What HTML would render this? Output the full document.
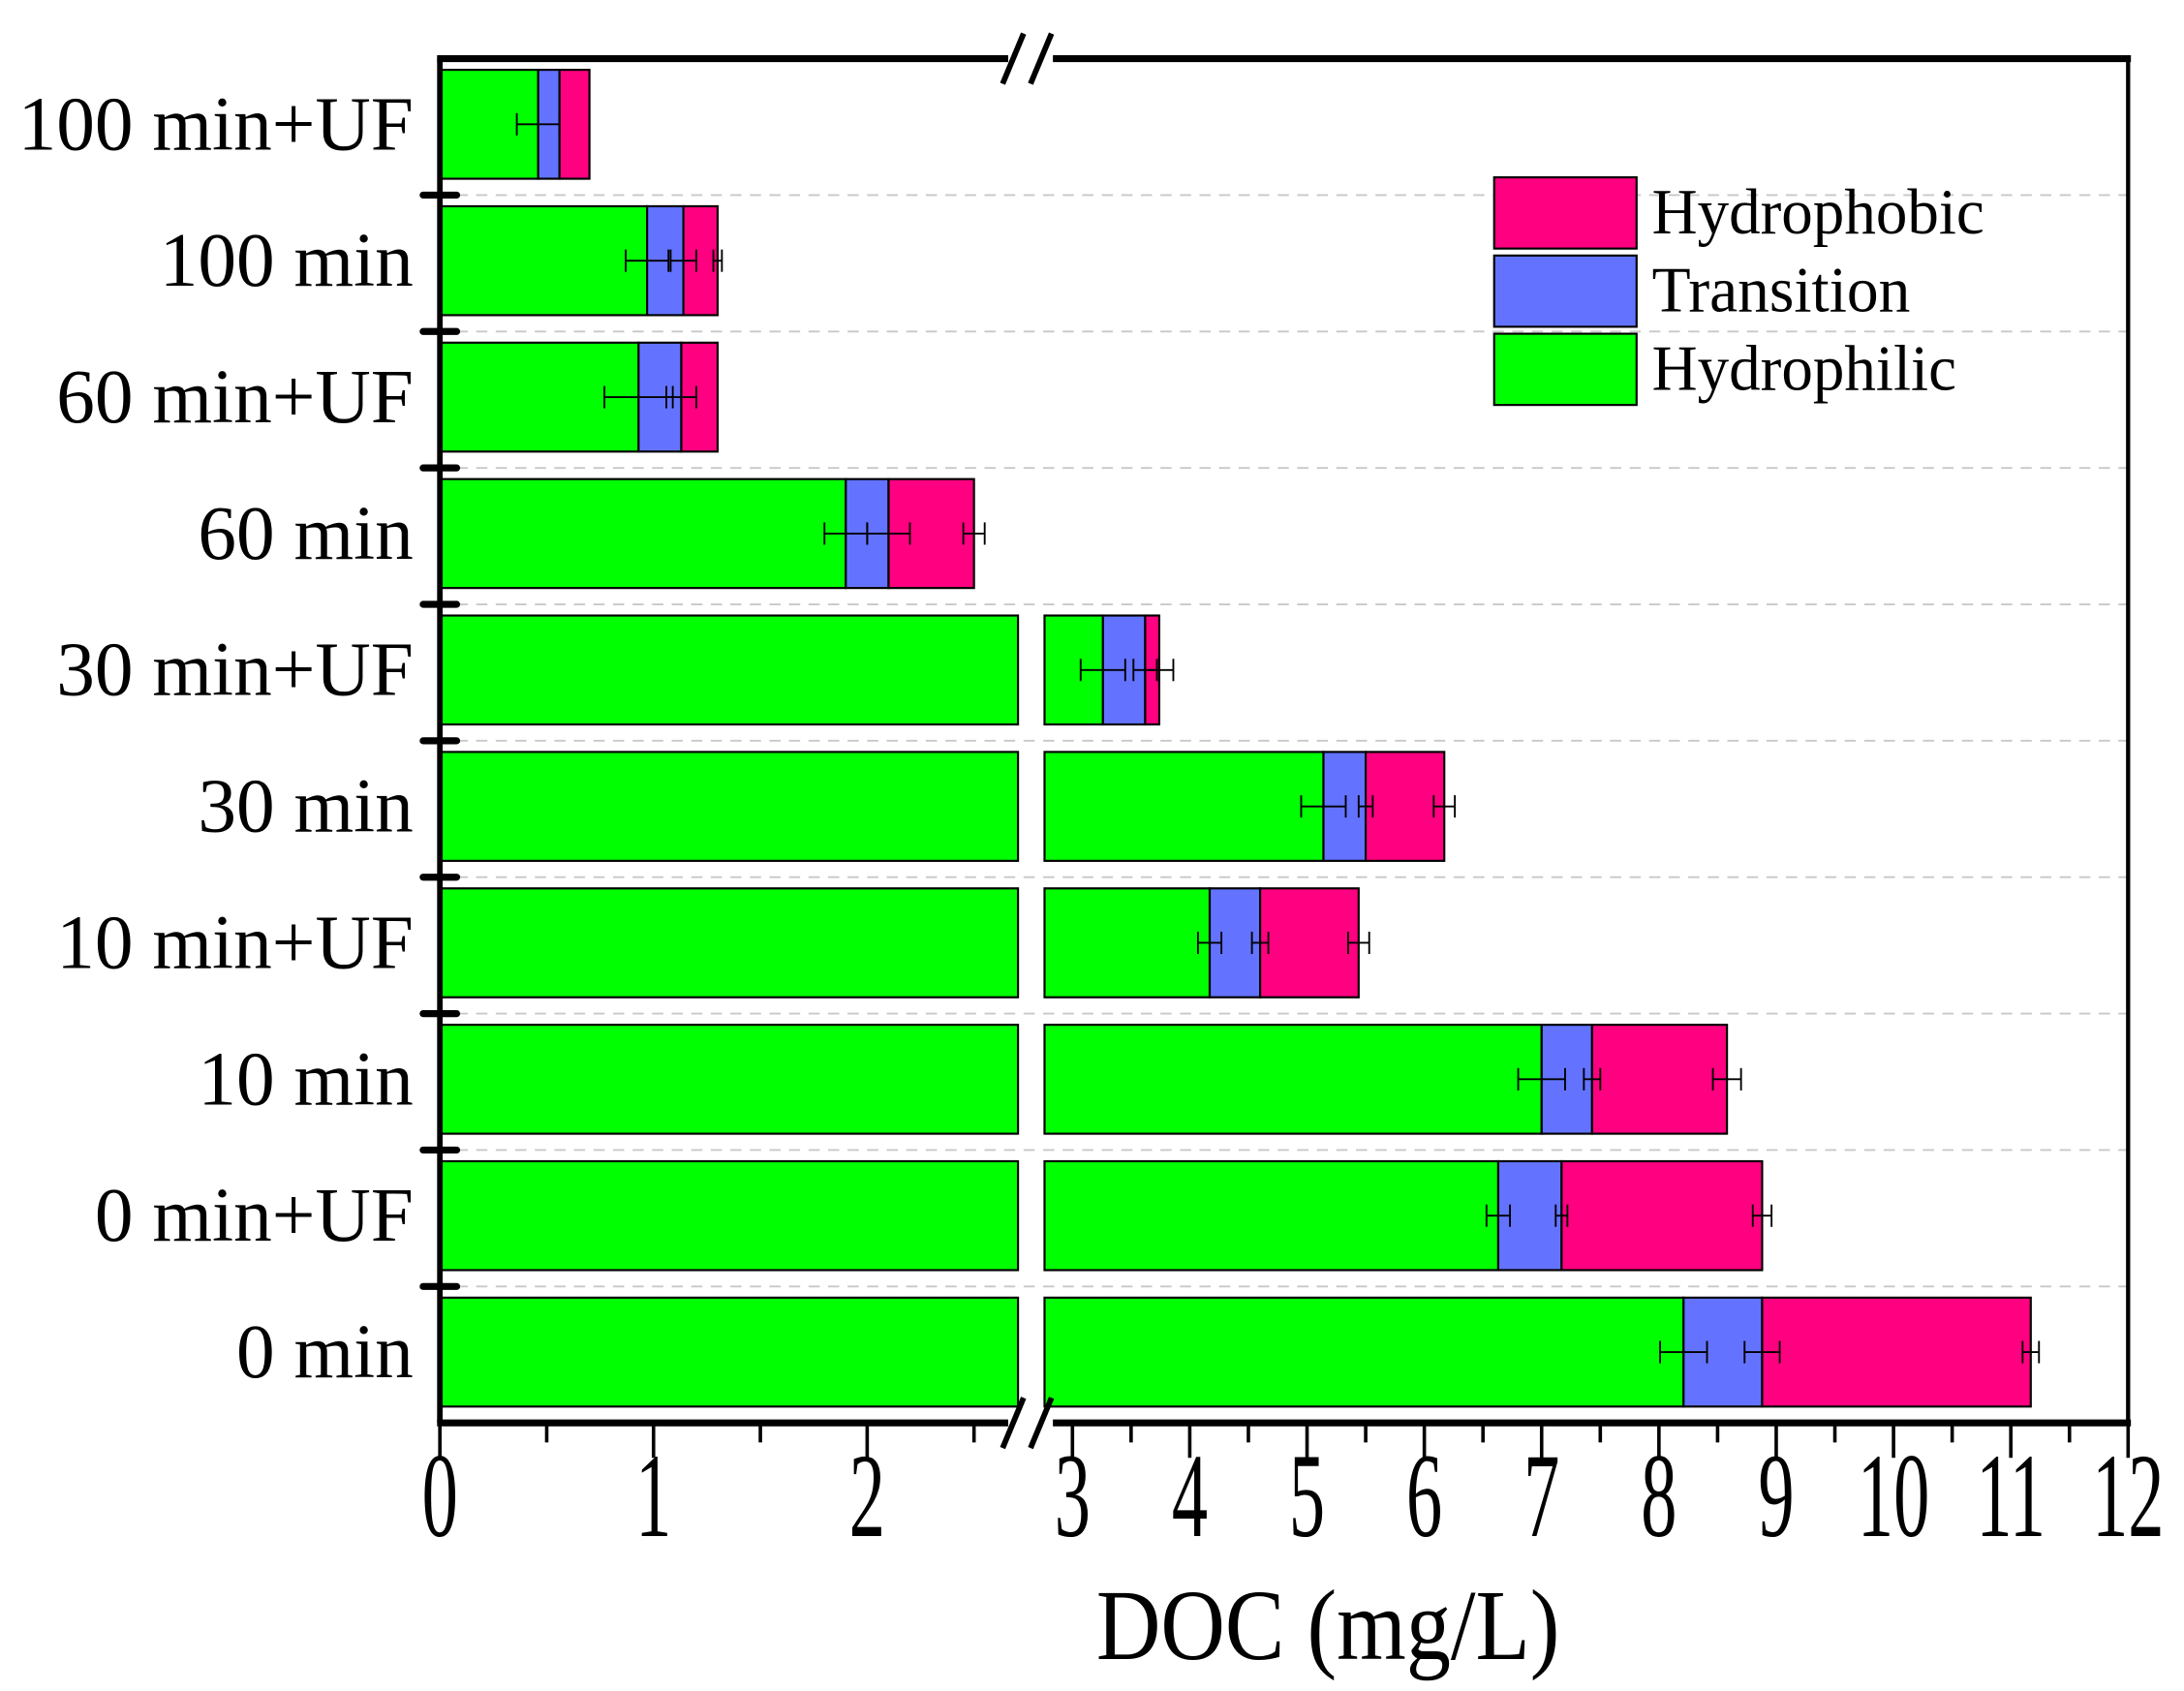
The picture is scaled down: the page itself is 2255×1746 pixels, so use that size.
<!DOCTYPE html>
<html><head><meta charset="utf-8"><style>
html,body{margin:0;padding:0;background:#fff;}
svg{display:block;}
text{font-family:"Liberation Serif",serif;fill:#000;}
</style></head><body>
<svg id="chart" width="2255" height="1746" viewBox="0 0 1564 1211" xmlns="http://www.w3.org/2000/svg">
<g id="grid"></g>
<g id="bars"></g>
<g id="errs"></g>
<g id="axes"></g>
<g id="legend"></g>
</svg>
<script>
const categories = ["100 min+UF","100 min","60 min+UF","60 min","30 min+UF","30 min","10 min+UF","10 min","0 min+UF","0 min"];
const hydrophilic = [0.46,0.97,0.93,1.90,3.26,5.14,4.17,7.00,6.63,8.21];
const transition = [0.10,0.17,0.20,0.20,0.36,0.36,0.43,0.43,0.54,0.67];
const hydrophobic = [0.14,0.16,0.17,0.40,0.12,0.67,0.84,1.15,1.71,2.29];
const errPhilic = [0.10,0.10,0.16,0.10,0.19,0.19,0.10,0.20,0.10,0.20];
const errTrans = [0.00,0.06,0.07,0.10,0.10,0.06,0.07,0.07,0.05,0.15];
const errPhobic = [0.00,0.02,0.00,0.05,0.12,0.09,0.09,0.12,0.08,0.07];
const tickLabels = [0,1,2,3,4,5,6,7,8,9,10,11,12];
const legendNames = ["Hydrophobic","Transition","Hydrophilic"];

const NS="http://www.w3.org/2000/svg";
const colors={philic:"#00ff00",trans:"#6373ff",phobic:"#ff0080"};
const X0=315, X1=1524, Y0=42, Y1=1019;
const BREAK=2.7, GAPL=729, GAPR=748;
function xs(v){ return v<=BREAK ? X0+153*v : 768+84*(v-3); }
const band=(Y1-Y0)/categories.length;
function yTop(i){ return Y0+i*band+8; }
const barH=78;
function mk(tag,attrs,parent){const e=document.createElementNS(NS,tag);for(const k in attrs)e.setAttribute(k,attrs[k]);parent.appendChild(e);return e;}
const gGrid=document.getElementById('grid'),gBars=document.getElementById('bars'),gErr=document.getElementById('errs'),gAx=document.getElementById('axes'),gLeg=document.getElementById('legend');

for(let k=1;k<categories.length;k++){
  const y=Y0+k*band;
  const l=mk('line',{x1:X0+12,x2:X1,y1:y,y2:y,stroke:'#c8c8c8','stroke-width':1.3,'stroke-dasharray':'8,6'},gGrid);
  
  
}
function seg(a,b,y,fill,name){
  const parts=[];
  if(a<BREAK){parts.push([xs(a),Math.min(xs(b),GAPL)]);}
  if(b>BREAK){parts.push([Math.max(xs(Math.max(a,3-20/84)),GAPR),xs(b)]);}
  parts.forEach(p=>{
    if(p[1]-p[0]<=0)return;
    const r=mk('rect',{x:p[0],y:y,width:p[1]-p[0],height:barH,fill:fill,stroke:'#000','stroke-width':1.5},gBars);
    
    
  });
}
function err(c,e,y){
  if(e<=0)return;
  const xa=xs(c-e),xb=xs(c+e),ym=y+barH/2;
  const g=mk('g',{stroke:'#000','stroke-width':1.3},gErr);
  
  
  mk('line',{x1:xa,x2:xb,y1:ym,y2:ym},g);
  mk('line',{x1:xa,x2:xa,y1:ym-8,y2:ym+8},g);
  mk('line',{x1:xb,x2:xb,y1:ym-8,y2:ym+8},g);
}
categories.forEach((c,i)=>{
  const y=yTop(i);
  const a=hydrophilic[i], b=a+transition[i], d=b+hydrophobic[i];
  seg(0,a,y,colors.philic,'bar-hydrophilic');
  seg(a,b,y,colors.trans,'bar-transition');
  seg(b,d,y,colors.phobic,'bar-hydrophobic');
  err(a,errPhilic[i],y); err(b,errTrans[i],y); err(d,errPhobic[i],y);
  const t=mk('text',{x:296,y:y+barH/2+18,'font-size':55,'text-anchor':'end'},gAx);
  t.textContent=c;
  
  
});
mk('line',{x1:X0,x2:X0,y1:Y0,y2:Y1,stroke:'#000','stroke-width':4},gAx);
mk('line',{x1:X1,x2:X1,y1:Y0,y2:Y1,stroke:'#000','stroke-width':3},gAx);
[Y0,Y1].forEach(y=>{
  mk('line',{x1:X0-2,x2:722,y1:y,y2:y,stroke:'#000','stroke-width':5},gAx);
  mk('line',{x1:754,x2:X1+2,y1:y,y2:y,stroke:'#000','stroke-width':5},gAx);
  mk('line',{x1:718,x2:733,y1:y+18,y2:y-18,stroke:'#000','stroke-width':4},gAx);
  mk('line',{x1:738,x2:753,y1:y+18,y2:y-18,stroke:'#000','stroke-width':4},gAx);
});
for(let k=1;k<categories.length;k++){
  const y=Y0+k*band;
  mk('line',{x1:303,x2:327,y1:y,y2:y,stroke:'#000','stroke-width':5,'stroke-linecap':'round'},gAx);
}
tickLabels.forEach(v=>{
  const x=xs(v);
  mk('line',{x1:x,x2:x,y1:Y1,y2:Y1+25,stroke:'#000','stroke-width':2.5},gAx);
  const t=mk('text',{x:0,y:0,'font-size':86,'text-anchor':'middle',transform:`translate(${x},1100) scale(0.6,1)`},gAx);
  t.textContent=v;
  
  
});
[0.5,1.5,2.5,3.5,4.5,5.5,6.5,7.5,8.5,9.5,10.5,11.5].forEach(v=>{
  const x=xs(v);
  mk('line',{x1:x,x2:x,y1:Y1,y2:Y1+14,stroke:'#000','stroke-width':2.5},gAx);
});
const title=mk('text',{x:785,y:1188,'font-size':72,textLength:332,lengthAdjust:'spacingAndGlyphs'},gAx);
title.textContent='DOC (mg/L)';


const legColors=[colors.phobic,colors.trans,colors.philic];
const legW=[238,185,218];
legendNames.forEach((n,i)=>{
  const y=127+i*56;
  const r=mk('rect',{x:1070,y:y,width:102,height:51,fill:legColors[i],stroke:'#000','stroke-width':1.5},gLeg);
  
  
  const t=mk('text',{x:1183,y:y+40,'font-size':46,textLength:legW[i],lengthAdjust:'spacingAndGlyphs'},gLeg);
  t.textContent=n;
  
  
});
</script>
</body></html>
